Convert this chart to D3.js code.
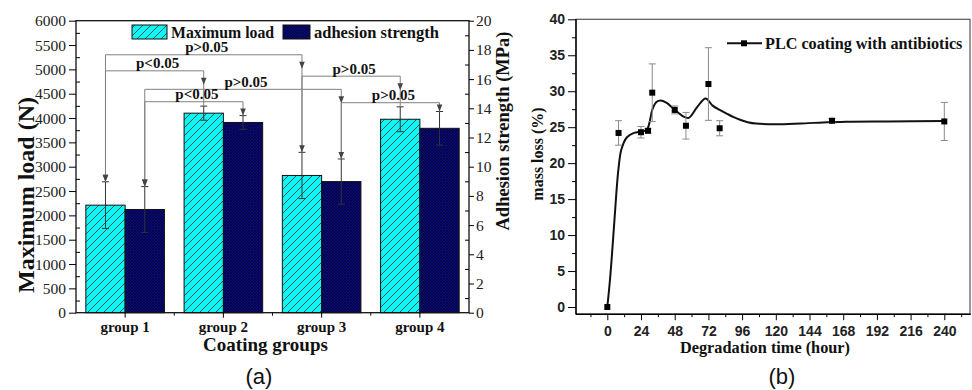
<!DOCTYPE html>
<html>
<head>
<meta charset="utf-8">
<script src="https://cdn.jsdelivr.net/npm/d3@7"></script>
<style>
  body { margin: 0; background: #fff; }
  svg { display: block; }
</style>
</head>
<body>
<div id="chart"></div>
<script>
// ---- panel (a) data ----
const groups = ["group 1", "group 2", "group 3", "group 4"];
const series = ["load", "adhesion"];
const maxLoad = [2210, 4100, 2820, 3975];          // N
const maxLoadErr = [480, 145, 475, 255];
const adhesion = [7.07, 13.03, 8.98, 12.63];       // MPa
const adhesionErr = [1.57, 0.47, 1.55, 1.15];
const loadTicks = d3.range(0, 6001, 500);
const mpaTicks = d3.range(0, 21, 2);
// significance brackets: from group/series, to group/series, level (N), label
const brackets = [
    ["group 1", "load", "group 3", "load", 5300, "p>0.05"],
    ["group 1", "load", "group 2", "load", 4970, "p<0.05"],
    ["group 1", "adhesion", "group 3", "adhesion", 4590, "p>0.05"],
    ["group 1", "adhesion", "group 2", "adhesion", 4335, "p<0.05"],
    ["group 3", "load", "group 4", "load", 4860, "p>0.05"],
    ["group 3", "adhesion", "group 4", "adhesion", 4315, "p>0.05"]
];

// ---- panel (b) data ----
const hours = [0, 8, 24, 29, 32, 48, 56, 72, 80, 160, 240];
const massLoss = [0, 24.2, 24.3, 24.5, 29.8, 27.4, 25.2, 31.0, 24.85, 25.9, 25.8];
const massLossErr = [0, 1.7, 0.8, 0.3, 4.0, 0.55, 1.85, 5.05, 1.05, 0.3, 2.65];
// fitted curve
const fitHours = [0, 2, 4.5, 6.5, 8, 10, 14, 19, 24, 28, 30, 32, 35, 38, 42, 47, 54, 58, 64, 70, 75, 80, 85, 90, 95, 100, 106, 123, 147, 170, 200, 240];
const fitLoss = [0, 4, 10.5, 16, 19.3, 21.9, 23.6, 24.2, 24.4, 24.6, 25.6, 27.4, 28.5, 28.7, 28.4, 27.6, 26.5, 26.3, 27.8, 29.0, 28.0, 27.4, 26.9, 26.4, 26.0, 25.7, 25.5, 25.4, 25.6, 25.75, 25.8, 25.85];
const hourTicks = d3.range(0, 241, 24);
const lossTicks = d3.range(0, 41, 5);

const serif = '"Liberation Serif", "Times New Roman", serif';
const sans = '"Liberation Sans", Arial, sans-serif';

const svg = d3.select("#chart").append("svg")
    .attr("width", 972)
    .attr("height", 390);

const defs = svg.append("defs");
const hatch = defs.append("pattern")
    .attr("id", "hatchCyan")
    .attr("patternUnits", "userSpaceOnUse")
    .attr("width", 8).attr("height", 8);
hatch.append("rect").attr("width", 8).attr("height", 8).attr("fill", "#12f4f4");
hatch.append("path")
    .attr("d", "M0,8 L8,0 M-2,2 L2,-2 M6,10 L10,6")
    .attr("stroke", "#1d4a4a").attr("stroke-width", 0.9);

const cross = defs.append("pattern")
    .attr("id", "crossNavy")
    .attr("patternUnits", "userSpaceOnUse")
    .attr("width", 3).attr("height", 3);
cross.append("rect").attr("width", 3).attr("height", 3).attr("fill", "#0a0a78");
cross.append("path")
    .attr("d", "M0,3 L3,0 M0,0 L3,3")
    .attr("stroke", "#02022e").attr("stroke-width", 0.6);

// ================= panel (a) =================
const A = { left: 76, right: 469, top: 20.7, bottom: 312.7 };

const x0 = d3.scaleBand().domain(groups).range([A.left, A.right]).padding(0);
const x1 = d3.scaleBand().domain(series).range([0, x0.bandwidth()]).paddingInner(0).paddingOuter(0.25);
const yL = d3.scaleLinear().domain([0, 6000]).range([A.bottom, A.top]);
const yR = d3.scaleLinear().domain([0, 20]).range([A.bottom, A.top]);

const ga = svg.append("g");

// bars
const barRows = groups.map((g, i) => [
    { g, s: "load", v: maxLoad[i], e: maxLoadErr[i], y: yL, fill: "url(#hatchCyan)" },
    { g, s: "adhesion", v: adhesion[i], e: adhesionErr[i], y: yR, fill: "url(#crossNavy)" }
]).flat();

ga.selectAll(".bar")
    .data(barRows)
    .enter().append("rect")
    .attr("x", d => x0(d.g) + x1(d.s))
    .attr("y", d => d.y(d.v))
    .attr("width", x1.bandwidth())
    .attr("height", d => A.bottom - d.y(d.v))
    .attr("fill", d => d.fill)
    .attr("stroke", "#111")
    .attr("stroke-width", 1);

// error bars
const cx = d => x0(d.g) + x1(d.s) + x1.bandwidth() / 2;
const eb = ga.selectAll(".err").data(barRows).enter().append("g").attr("stroke", "#333").attr("stroke-width", 1);
eb.append("line").attr("x1", cx).attr("x2", cx).attr("y1", d => d.y(d.v + d.e)).attr("y2", d => d.y(d.v - d.e));
eb.append("line").attr("x1", d => cx(d) - 3.5).attr("x2", d => cx(d) + 3.5).attr("y1", d => d.y(d.v + d.e)).attr("y2", d => d.y(d.v + d.e));
eb.append("line").attr("x1", d => cx(d) - 3.5).attr("x2", d => cx(d) + 3.5).attr("y1", d => d.y(d.v - d.e)).attr("y2", d => d.y(d.v - d.e));

// significance brackets
function barTop(g, s) {
    const i = groups.indexOf(g);
    return s === "load" ? yL(maxLoad[i] + maxLoadErr[i]) : yR(adhesion[i] + adhesionErr[i]);
}
function arrowDown(sel, x, tip) {
    sel.append("path")
        .attr("d", `M${x},${tip} L${x - 2.8},${tip - 7} L${x + 2.8},${tip - 7} Z`)
        .attr("fill", "#444");
}
const bg = ga.append("g");
brackets.forEach(b => {
    const xa = x0(b[0]) + x1(b[1]) + x1.bandwidth() / 2;
    const xb = x0(b[2]) + x1(b[3]) + x1.bandwidth() / 2;
    const yl = yL(b[4]);
    const ya = barTop(b[0], b[1]);
    const yb = barTop(b[2], b[3]);
    bg.append("path")
        .attr("d", `M${xa},${ya} L${xa},${yl} L${xb},${yl} L${xb},${yb}`)
        .attr("fill", "none").attr("stroke", "#808080").attr("stroke-width", 1);
    arrowDown(bg, xa, ya);
    arrowDown(bg, xb, Math.min(yl + 14, yb));
    bg.append("text")
        .attr("x", (xa + xb) / 2 + 3)
        .attr("y", yl - 2.5)
        .attr("text-anchor", "middle")
        .style("font-family", serif).style("font-weight", "bold").style("font-size", "15px")
        .attr("fill", "#111")
        .text(b[5]);
});

// frame
ga.append("rect")
    .attr("x", A.left).attr("y", A.top)
    .attr("width", A.right - A.left).attr("height", A.bottom - A.top)
    .attr("fill", "none").attr("stroke", "#111").attr("stroke-width", 1.3);

// left axis
const loadMinor = d3.range(250, 6000, 500);
ga.append("g").attr("transform", `translate(${A.left},0)`)
    .call(d3.axisLeft(yL).tickValues(loadTicks).tickFormat(d3.format("d")).tickSize(7).tickPadding(3))
    .call(g => g.select(".domain").remove())
    .selectAll("text").style("font-family", serif).style("font-size", "15.5px").attr("fill", "#222");
ga.append("g").attr("transform", `translate(${A.left},0)`)
    .call(d3.axisRight(yL).tickValues(loadMinor).tickSize(4).tickFormat(""))
    .call(g => g.select(".domain").remove());

// right axis
const mpaMinor = d3.range(1, 20, 2);
ga.append("g").attr("transform", `translate(${A.right},0)`)
    .call(d3.axisRight(yR).tickValues(mpaTicks).tickSize(5).tickPadding(2))
    .call(g => g.select(".domain").remove())
    .selectAll("text").style("font-family", serif).style("font-size", "15.5px").attr("fill", "#222");
ga.append("g").attr("transform", `translate(${A.right},0)`)
    .call(d3.axisLeft(yR).tickValues(mpaMinor).tickSize(4).tickFormat(""))
    .call(g => g.select(".domain").remove());

// bottom axis
ga.append("g").attr("transform", `translate(0,${A.bottom})`)
    .call(d3.axisBottom(x0).tickSize(5).tickPadding(4).tickSizeOuter(0))
    .call(g => g.select(".domain").remove())
    .selectAll("text").style("font-family", serif).style("font-weight", "bold").style("font-size", "15px").attr("fill", "#111");
ga.append("g").attr("transform", `translate(0,${A.bottom})`)
    .selectAll("line").data(groups.slice(1)).enter().append("line")
    .attr("x1", d => x0(d)).attr("x2", d => x0(d))
    .attr("y1", 0).attr("y2", 3).attr("stroke", "#111");

// axis titles
ga.append("text")
    .attr("transform", `translate(34,195) rotate(-90)`)
    .attr("text-anchor", "middle")
    .style("font-family", serif).style("font-weight", "bold").style("font-size", "24px")
    .attr("fill", "#111").text("Maximum load (N)");
ga.append("text")
    .attr("transform", `translate(509,131) rotate(-90)`)
    .attr("text-anchor", "middle")
    .style("font-family", serif).style("font-weight", "bold").style("font-size", "18.5px")
    .attr("fill", "#111").text("Adhesion strength (MPa)");
ga.append("text")
    .attr("x", 265.5).attr("y", 351)
    .attr("text-anchor", "middle")
    .style("font-family", serif).style("font-weight", "bold").style("font-size", "19px")
    .attr("fill", "#111").text("Coating groups");
ga.append("text")
    .attr("x", 259).attr("y", 384)
    .attr("text-anchor", "middle")
    .style("font-family", sans).style("font-size", "22px")
    .attr("fill", "#111").text("(a)");

// legend (a)
const legA = ga.append("g");
legA.append("rect").attr("x", 132).attr("y", 25).attr("width", 35).attr("height", 14)
    .attr("fill", "url(#hatchCyan)").attr("stroke", "#111");
legA.append("text").attr("x", 171).attr("y", 38)
    .style("font-family", serif).style("font-weight", "bold").style("font-size", "15.8px")
    .attr("fill", "#111").text("Maximum load");
legA.append("rect").attr("x", 283).attr("y", 25).attr("width", 27).attr("height", 14)
    .attr("fill", "url(#crossNavy)").attr("stroke", "#111");
legA.append("text").attr("x", 314).attr("y", 38)
    .style("font-family", serif).style("font-weight", "bold").style("font-size", "16.5px")
    .attr("fill", "#111").text("adhesion strength");

// ================= panel (b) =================
const B = { left: 576, right: 970.7, top: 19.3, bottom: 314.2 };
const xb = d3.scaleLinear().domain([-22.3, 258.8]).range([B.left, B.right]);
const yb = d3.scaleLinear().domain([-1, 40]).range([B.bottom, B.top]);

const gb = svg.append("g");

// frame (top/right lighter)
gb.append("rect")
    .attr("x", B.left).attr("y", B.top)
    .attr("width", B.right - B.left - 0.7).attr("height", B.bottom - B.top)
    .attr("fill", "none").attr("stroke", "#555").attr("stroke-width", 1.2);

// axes
gb.append("g").attr("transform", `translate(${B.left},0)`)
    .call(d3.axisLeft(yb).tickValues(lossTicks).tickSize(8).tickPadding(3))
    .call(g => g.select(".domain").attr("d", `M0,${B.top}V${B.bottom}`).attr("stroke-width", 1.4))
    .selectAll("text").style("font-family", sans).style("font-weight", "bold").style("font-size", "14px").attr("fill", "#222");
gb.append("g").attr("transform", `translate(${B.left},0)`)
    .call(d3.axisLeft(yb).tickValues(d3.range(2.5, 40, 5)).tickSize(4).tickFormat(""))
    .call(g => g.select(".domain").remove());

gb.append("g").attr("transform", `translate(0,${B.bottom})`)
    .call(d3.axisBottom(xb).tickValues(hourTicks).tickSize(6).tickPadding(6))
    .call(g => g.select(".domain").attr("d", `M${B.left},0H${B.right}`).attr("stroke-width", 1.4))
    .selectAll("text").style("font-family", sans).style("font-weight", "bold").style("font-size", "14px").attr("fill", "#222");
gb.append("g").attr("transform", `translate(0,${B.bottom})`)
    .call(d3.axisBottom(xb).tickValues(d3.range(-12, 253, 24)).tickSize(3).tickFormat(""))
    .call(g => g.select(".domain").remove());

// fitted curve
const line = d3.line()
    .x((d, i) => xb(fitHours[i]))
    .y(d => yb(d))
    .curve(d3.curveCatmullRom.alpha(0.5));
gb.append("path")
    .datum(fitLoss)
    .attr("d", line)
    .attr("fill", "none").attr("stroke", "#111").attr("stroke-width", 2);

// error bars + markers
const pts = hours.map((h, i) => ({ h, v: massLoss[i], e: massLossErr[i] }));
const pe = gb.selectAll(".perr").data(pts.filter(d => d.e > 0)).enter().append("g")
    .attr("stroke", "#8a8a8a").attr("stroke-width", 1);
pe.append("line").attr("x1", d => xb(d.h)).attr("x2", d => xb(d.h)).attr("y1", d => yb(d.v + d.e)).attr("y2", d => yb(d.v - d.e));
pe.append("line").attr("x1", d => xb(d.h) - 3.5).attr("x2", d => xb(d.h) + 3.5).attr("y1", d => yb(d.v + d.e)).attr("y2", d => yb(d.v + d.e));
pe.append("line").attr("x1", d => xb(d.h) - 3.5).attr("x2", d => xb(d.h) + 3.5).attr("y1", d => yb(d.v - d.e)).attr("y2", d => yb(d.v - d.e));

gb.selectAll(".pt").data(pts).enter().append("rect")
    .attr("x", d => xb(d.h) - 3).attr("y", d => yb(d.v) - 3)
    .attr("width", 6).attr("height", 6)
    .attr("fill", "#000");

// titles
gb.append("text")
    .attr("transform", `translate(543,154) rotate(-90)`)
    .attr("text-anchor", "middle")
    .style("font-family", serif).style("font-weight", "bold").style("font-size", "16px")
    .attr("fill", "#111").text("mass loss (%)");
gb.append("text")
    .attr("x", 765).attr("y", 353)
    .attr("text-anchor", "middle")
    .style("font-family", serif).style("font-weight", "bold").style("font-size", "16.3px")
    .attr("fill", "#111").text("Degradation time (hour)");
gb.append("text")
    .attr("x", 782).attr("y", 384)
    .attr("text-anchor", "middle")
    .style("font-family", sans).style("font-size", "22px")
    .attr("fill", "#111").text("(b)");

// legend (b)
const legB = gb.append("g");
legB.append("line").attr("x1", 727).attr("x2", 762).attr("y1", 43.3).attr("y2", 43.3)
    .attr("stroke", "#111").attr("stroke-width", 2);
legB.append("rect").attr("x", 741).attr("y", 40.3).attr("width", 6).attr("height", 6).attr("fill", "#000");
legB.append("text").attr("x", 765).attr("y", 48.5)
    .style("font-family", serif).style("font-weight", "bold").style("font-size", "16.2px")
    .attr("fill", "#111").text("PLC coating with antibiotics");
</script>
</body>
</html>
